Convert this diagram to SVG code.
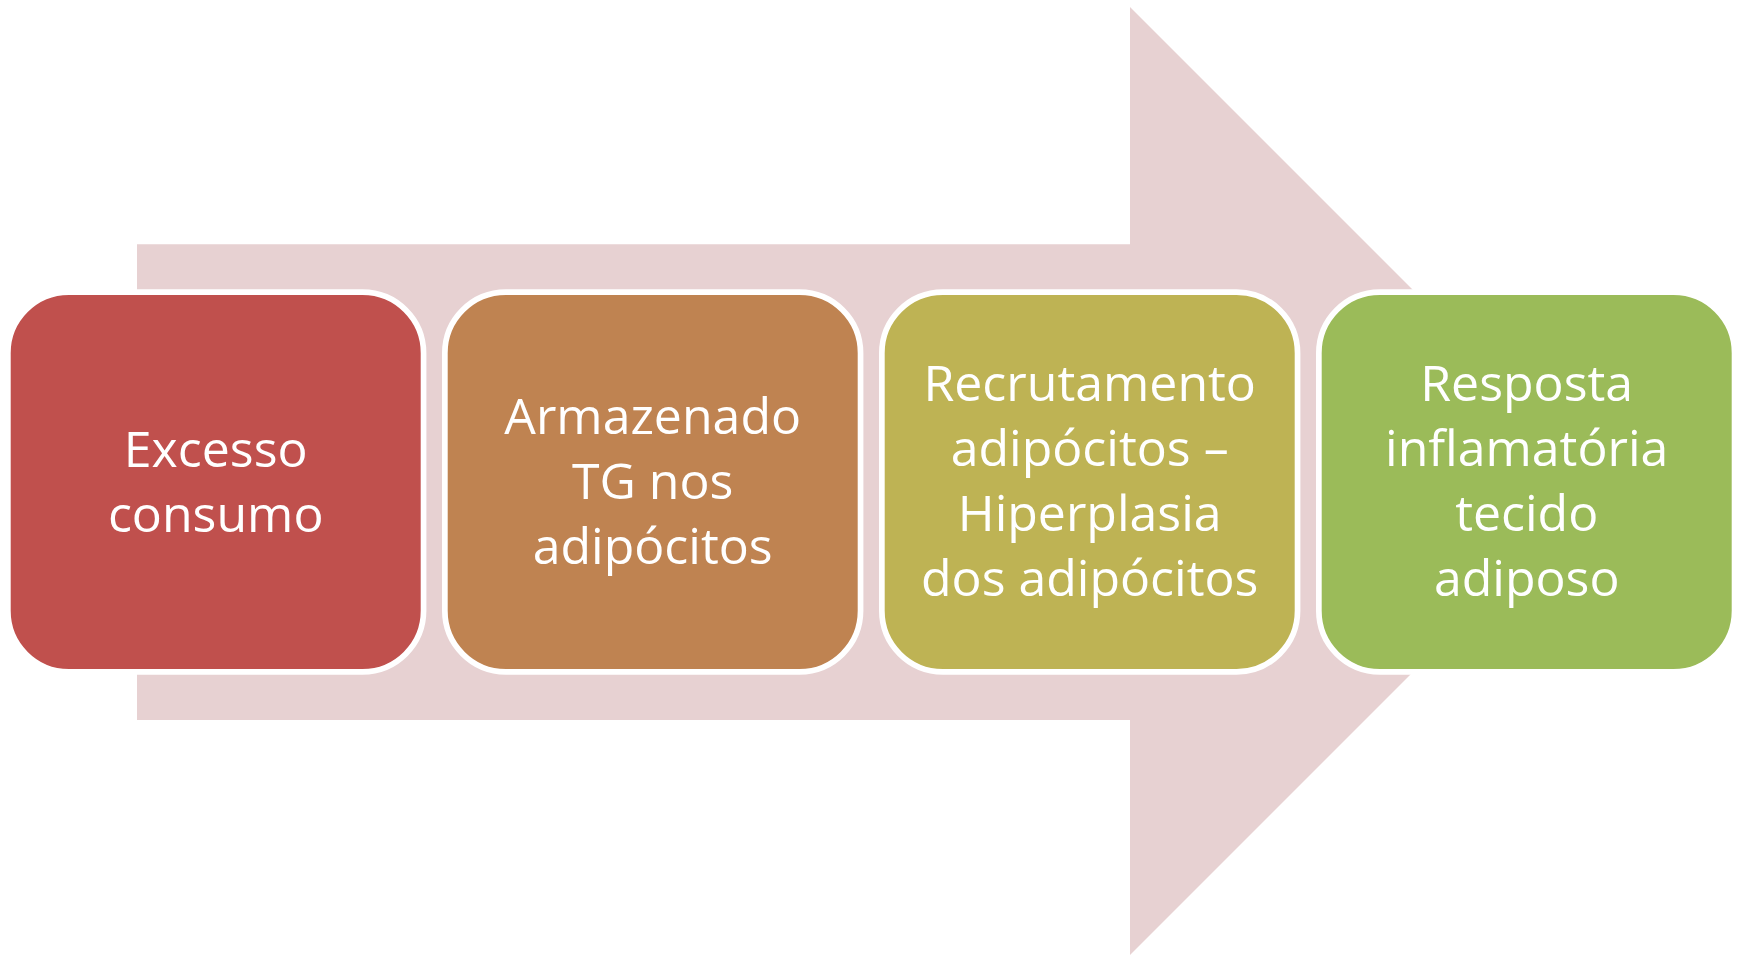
<svg xmlns="http://www.w3.org/2000/svg" width="1741" height="955" viewBox="0 0 1741 955">
<style>
.box{stroke:#FFFFFF;stroke-width:5.7}
.lbl{font-family:"Open Sans","Liberation Sans",sans-serif;font-size:50px;fill:#FFFFFF;text-anchor:middle}
</style>
<rect x="0" y="0" width="1741" height="955" fill="#FFFFFF"/>
<g id="connectors">
<polygon id="arrow" points="137,244.3 1130,244.3 1130,7 1604,481 1130,955 1130,720 137,720" fill="#E7D1D2"/>
</g>
<g id="node1">
<rect class="box" x="7.85" y="292.15" width="415.7" height="379.7" rx="61" fill="#C0504D"/>
<text class="lbl" x="215.7" y="466.5">Excesso</text>
<text class="lbl" x="215.7" y="531.5">consumo</text>
</g>
<g id="node2">
<rect class="box" x="444.85" y="292.15" width="415.7" height="379.7" rx="61" fill="#BF8351"/>
<text class="lbl" x="652.7" y="434">Armazenado</text>
<text class="lbl" x="652.7" y="499">TG nos</text>
<text class="lbl" x="652.7" y="564">adipócitos</text>
</g>
<g id="node3">
<rect class="box" x="881.85" y="292.15" width="415.7" height="379.7" rx="61" fill="#BEB354"/>
<text class="lbl" x="1089.7" y="401">Recrutamento</text>
<text class="lbl" x="1089.7" y="466">adipócitos –</text>
<text class="lbl" x="1089.7" y="531">Hiperplasia</text>
<text class="lbl" x="1089.7" y="596">dos adipócitos</text>
</g>
<g id="node4">
<rect class="box" x="1318.85" y="292.15" width="415.7" height="379.7" rx="61" fill="#9BBB59"/>
<text class="lbl" x="1526.7" y="401">Resposta</text>
<text class="lbl" x="1526.7" y="466">inflamatória</text>
<text class="lbl" x="1526.7" y="531">tecido</text>
<text class="lbl" x="1526.7" y="596">adiposo</text>
</g>
</svg>
